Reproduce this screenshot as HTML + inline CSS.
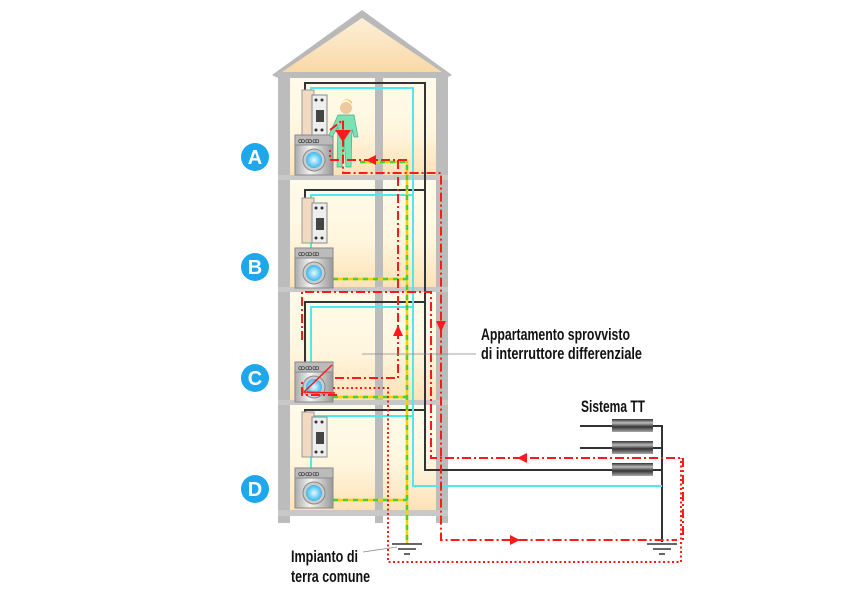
<!DOCTYPE html>
<html><head><meta charset="utf-8"><style>
html,body{margin:0;padding:0;background:#fff;width:842px;height:595px;overflow:hidden}
svg{display:block}
.t{font-family:"Liberation Sans",sans-serif;font-weight:bold;font-size:17px;fill:#111}
.c{font-family:"Liberation Sans",sans-serif;font-weight:bold;font-size:20px;fill:#fff}
</style></head><body>
<svg width="842" height="595" viewBox="0 0 842 595" xmlns="http://www.w3.org/2000/svg">
<defs>
<linearGradient id="fl" x1="0" y1="0" x2="0" y2="1">
<stop offset="0" stop-color="#fffbea"/><stop offset="0.55" stop-color="#fff6de"/><stop offset="1" stop-color="#fde2b8"/></linearGradient>
<linearGradient id="rf" x1="0" y1="0" x2="0" y2="1"><stop offset="0" stop-color="#fdf0d8"/><stop offset="1" stop-color="#f9d8a6"/></linearGradient>
<linearGradient id="wm" x1="0" y1="0" x2="1" y2="0"><stop offset="0" stop-color="#aaa"/><stop offset="0.4" stop-color="#f4f4f4"/><stop offset="1" stop-color="#999"/></linearGradient>
<linearGradient id="tr" x1="0" y1="0" x2="0" y2="1"><stop offset="0" stop-color="#333"/><stop offset="0.3" stop-color="#bbb"/><stop offset="0.6" stop-color="#333"/><stop offset="1" stop-color="#aaa"/></linearGradient>
<radialGradient id="dr"><stop offset="0" stop-color="#e6f8ff"/><stop offset="1" stop-color="#39b8ef"/></radialGradient>
<g id="wmach">
<rect x="0" y="0" width="38" height="40" fill="url(#wm)" stroke="#888"/>
<rect x="0" y="0" width="38" height="10" fill="#bbb" stroke="#888"/>
<text x="3" y="8" font-size="7" fill="#333" font-family="Liberation Sans">ꝏꝏꝏ</text>
<circle cx="19" cy="25" r="11" fill="#ccc" stroke="#888"/><circle cx="19" cy="25" r="8" fill="url(#dr)"/>
</g>
<g id="meter">
<rect x="0" y="0" width="12" height="45" fill="#f3d9c2" stroke="#999"/>
<rect x="10" y="5" width="15" height="40" fill="#eee" stroke="#888"/>
<rect x="14" y="20" width="8" height="12" fill="#444"/>
<circle cx="14" cy="10" r="1.5" fill="#333"/><circle cx="20" cy="10" r="1.5" fill="#333"/>
<circle cx="14" cy="40" r="1.5" fill="#333"/><circle cx="20" cy="40" r="1.5" fill="#333"/>
</g>
<g id="earth"><line x1="-15" y1="0" x2="15" y2="0" stroke="#333" stroke-width="1.5"/><line x1="-9" y1="5" x2="9" y2="5" stroke="#333" stroke-width="1.5"/><line x1="-3" y1="10" x2="3" y2="10" stroke="#333" stroke-width="1.5"/></g>
</defs>
<polygon points="272,75 362,10 452,75 446,78 362,18 278,78" fill="#b9b9b9"/>
<polygon points="282,72 362,18 442,72" fill="url(#rf)"/>
<rect x="278" y="72" width="170" height="8" fill="#bcbcbc"/>
<rect x="278" y="75" width="12" height="448" fill="#bcbcbc"/>
<rect x="436" y="75" width="12" height="448" fill="#bcbcbc"/>
<rect x="375" y="75" width="8" height="448" fill="#bcbcbc"/>
<rect x="290" y="78" width="85" height="97" fill="url(#fl)"/><rect x="383" y="78" width="53" height="97" fill="url(#fl)"/>
<rect x="290" y="180" width="85" height="107" fill="url(#fl)"/><rect x="383" y="180" width="53" height="107" fill="url(#fl)"/>
<rect x="290" y="292" width="85" height="108" fill="url(#fl)"/><rect x="383" y="292" width="53" height="108" fill="url(#fl)"/>
<rect x="290" y="405" width="85" height="105" fill="url(#fl)"/><rect x="383" y="405" width="53" height="105" fill="url(#fl)"/>
<rect x="278" y="175" width="170" height="5" fill="#c8c8c8"/>
<rect x="278" y="287" width="170" height="5" fill="#c8c8c8"/>
<rect x="278" y="400" width="170" height="5" fill="#c8c8c8"/>
<rect x="278" y="510" width="170" height="6" fill="#c8c8c8"/>
<rect x="290" y="516" width="85" height="8" fill="#fff"/><rect x="383" y="516" width="53" height="8" fill="#fff"/>
<g fill="none" stroke="#333" stroke-width="2">
<polyline points="305,90 305,83 425,83 425,470 653,470"/>
<polyline points="305,200 305,190 425,190"/>
<polyline points="305,370 305,302 425,302"/>
<polyline points="305,415 305,410 425,410"/>
<polyline points="580,426 653,426 662,426 662,542"/>
<polyline points="580,448 653,448"/><line x1="653" y1="448" x2="662" y2="448"/><line x1="653" y1="470" x2="662" y2="470"/>
</g>
<g fill="none" stroke="#4ee8ee" stroke-width="2">
<polyline points="311,135 311,88 413,88 413,486 662,486"/>
<polyline points="311,248 311,195 413,195"/>
<polyline points="311,365 311,307 413,307"/>
<polyline points="311,470 311,416 413,416"/>
</g>
<g fill="none" stroke-width="2.5">
<g stroke="#f4d400"><polyline points="360,162 407,162 407,544"/><polyline points="333,279 407,279"/><polyline points="333,397 407,397"/><polyline points="333,500 407,500"/></g>
<g stroke="#3dd43d" stroke-dasharray="5,5"><polyline points="360,162 407,162 407,544"/><polyline points="333,279 407,279"/><polyline points="333,397 407,397"/><polyline points="333,500 407,500"/></g>
</g>
<use href="#meter" x="302" y="90"/><use href="#meter" x="302" y="198"/><use href="#meter" x="302" y="412"/>
<use href="#wmach" x="295" y="135"/><use href="#wmach" x="295" y="248"/><use href="#wmach" x="295" y="362"/><use href="#wmach" x="295" y="468"/>
<g>
<circle cx="346" cy="108" r="6" fill="#f0c8a0"/><path d="M340,104 q6,-8 12,0 l0,-2 q-6,-6 -12,2z" fill="#e8c030"/>
<path d="M338,115 h16 l4,22 h-4 l-2,-8 l-1,38 h-5 l-2,-28 l-2,28 h-5 l1,-40 l-6,10 l-3,-2z" fill="#7fe0b0" stroke="#4a9" stroke-width="0.7"/>
</g>
<g fill="none" stroke="#ff1a1a" stroke-width="2" stroke-dasharray="9,3,2,3">
<polyline points="330,130 343,120 343,173 441,173 441,540 677,540"/>
<polyline points="407,160 330,160 330,150"/>
<polyline points="398,160 398,378 333,378"/>
<polyline points="302,340 302,292 431,292 431,458 683,458 683,540"/>
<polyline points="337,395 302,395 302,380"/>
</g>
<polyline points="332,365 304,392 335,393" fill="none" stroke="#ff1a1a" stroke-width="1.5"/>
<polyline points="333,388 388,388 388,562 681,562 681,458" fill="none" stroke="#ff1a1a" stroke-width="2" stroke-dasharray="2,2.5"/>
<g fill="#ff1a1a">
<polygon points="335,130 351,130 343,142"/>
<polygon points="366,160 376,155 376,165"/>
<polygon points="398,325 393,336 403,336"/>
<polygon points="441,332 436,321 446,321"/>
<polygon points="517,458 527,453 527,463"/>
<polygon points="520,540 510,535 510,545"/>
</g>
<rect x="612" y="419" width="41" height="13" fill="url(#tr)"/>
<rect x="612" y="441" width="41" height="13" fill="url(#tr)"/>
<rect x="612" y="463" width="41" height="13" fill="url(#tr)"/>
<use href="#earth" x="407" y="544"/><use href="#earth" x="662" y="544"/>
<line x1="362" y1="354" x2="476" y2="354" stroke="#888" stroke-width="0.8"/>
<line x1="363" y1="552" x2="397" y2="547" stroke="#888" stroke-width="0.8"/>
<text class="t" x="481" y="340" textLength="149" lengthAdjust="spacingAndGlyphs">Appartamento sprovvisto</text>
<text class="t" x="481" y="359" textLength="161" lengthAdjust="spacingAndGlyphs">di interruttore differenziale</text>
<text class="t" x="581" y="412" textLength="64" lengthAdjust="spacingAndGlyphs">Sistema TT</text>
<text class="t" x="291" y="562" textLength="67" lengthAdjust="spacingAndGlyphs">Impianto di</text>
<text class="t" x="291" y="582" textLength="79" lengthAdjust="spacingAndGlyphs">terra comune</text>
<g>
<circle cx="255" cy="157" r="14" fill="#1ea7ea"/><text class="c" x="255" y="164" text-anchor="middle">A</text>
<circle cx="255" cy="267" r="14" fill="#1ea7ea"/><text class="c" x="255" y="274" text-anchor="middle">B</text>
<circle cx="255" cy="378" r="14" fill="#1ea7ea"/><text class="c" x="255" y="385" text-anchor="middle">C</text>
<circle cx="255" cy="489" r="14" fill="#1ea7ea"/><text class="c" x="255" y="496" text-anchor="middle">D</text>
</g>
</svg>
</body></html>
